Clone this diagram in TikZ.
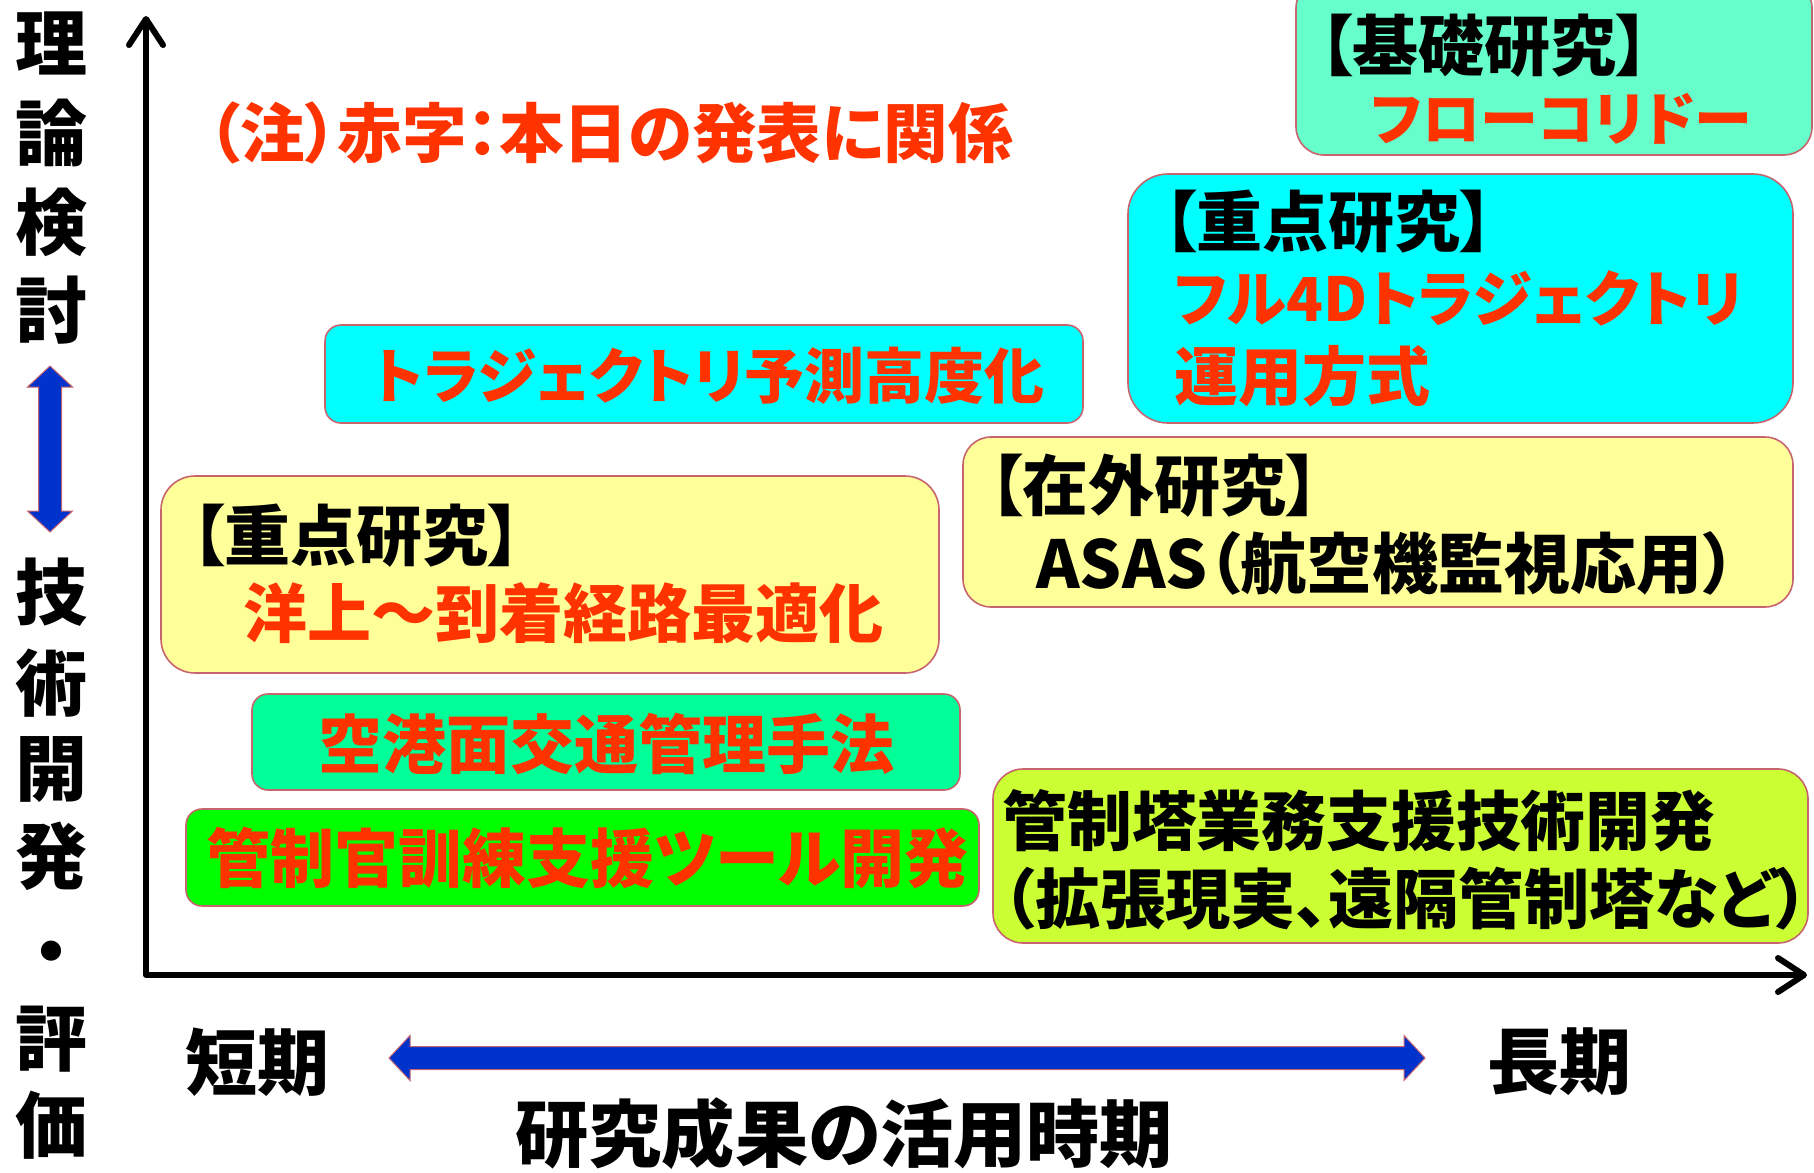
\documentclass[tikz,border=0pt]{standalone}
\usepackage{fontspec}
\setmainfont{Noto Sans CJK JP}[RawFeature=+palt]
\usetikzlibrary{arrows.meta,fit}
\definecolor{redtxt}{HTML}{FF3300}
\definecolor{arrblue}{HTML}{0033CC}
\definecolor{edge}{HTML}{C8646E}
\definecolor{aqua}{HTML}{66FFCC}
\definecolor{cyanbox}{HTML}{00FFFF}
\definecolor{yel}{HTML}{FFFF99}
\definecolor{spring}{HTML}{00FF99}
\definecolor{lime}{HTML}{00FF00}
\definecolor{ygreen}{HTML}{CCFF33}
\newcommand{\fsz}[1]{\bfseries\fontsize{#1}{1.2\dimexpr #1\relax}\selectfont}
\begin{document}
\begin{tikzpicture}[x=0.5pt,y=-0.5pt,
  box/.style={draw=edge, line width=0.8pt, inner sep=0pt},
  txt/.style={inner sep=0pt, anchor=west, font=\fsz{32pt}},
  vchar/.style={inner sep=0pt, font=\fsz{36pt}},
  big/.style={inner sep=0pt, anchor=west, font=\fsz{36pt}},
  axis/.style={line width=3pt, line join=round, {Straight Barb[length=13pt,width=17pt,round]}-{Straight Barb[length=13pt,width=17pt,round]}},
  blue arrow/.style={fill=arrblue, draw=edge, line width=0.5pt}
]
\useasboundingbox (0,0) rectangle (1814,1172);
\fill[white] (0,0) rectangle (1814,1172);

% axes
\coordinate (ytop) at (146,16);
\coordinate (O) at (146,975);
\coordinate (xend) at (1807,975);
\draw[axis] (ytop) -- (O) -- (xend);

% boxes
\node[box, fill=aqua, rounded corners=14pt, fit={(1296,-20) (1812,155)}] (b1) {};
\node[box, fill=cyanbox, rounded corners=20pt, fit={(1128,174) (1793,423)}] (b2) {};
\node[box, fill=cyanbox, rounded corners=8pt, fit={(325,325) (1083,423)}] (b3) {};
\node[box, fill=yel, rounded corners=14pt, fit={(963,437) (1793,607)}] (b4) {};
\node[box, fill=yel, rounded corners=17pt, fit={(161,476) (939,673)}] (b5) {};
\node[box, fill=spring, rounded corners=8pt, fit={(252,694) (960,790)}] (b6) {};
\node[box, fill=lime, rounded corners=8pt, fit={(186,809) (979,906)}] (b7) {};
\node[box, fill=ygreen, rounded corners=15pt, fit={(993,769) (1808,943)}] (b8) {};

% note
\node[txt, text=redtxt, font=\fsz{32.3pt}] (note) at (208,133) {（注）赤字：本日の発表に関係};

% box texts
\node[txt, font=\fsz{33pt}] (t1a) at (1319,46) {【基礎研究】};
\node[txt, text=redtxt, font=\fsz{29pt}] (t1b) at (1371,119) {フローコリドー};
\node[txt, font=\fsz{33pt}] (t2a) at (1163,222) {【重点研究】};
\node[txt, text=redtxt, font=\fsz{30.3pt}] (t2b) at (1174,298) {フル4Dトラジェクトリ};
\node[txt, text=redtxt] (t2c) at (1174,376) {運用方式};
\node[txt, text=redtxt, font=\fsz{30pt}] (t3) at (373,376) {トラジェクトリ予測高度化};
\node[txt, font=\fsz{33pt}] (t4a) at (989,486) {【在外研究】};
\node[txt, font=\fsz{33pt}] (t4b) at (1036,563) {ASAS（航空機監視応用）};
\node[txt, font=\fsz{33pt}] (t5a) at (191,536) {【重点研究】};
\node[txt, text=redtxt] (t5b) at (243,613) {洋上～到着経路最適化};
\node[txt, text=redtxt] (t6) at (318,744) {空港面交通管理手法};
\node[txt, text=redtxt] (t7) at (206,858) {管制官訓練支援ツール開発};
\node[txt, font=\fsz{32.4pt}] (t8a) at (1002,821) {管制塔業務支援技術開発};
\node[txt, font=\fsz{32.6pt}] (t8b) at (1002,899) {（拡張現実、遠隔管制塔など）};

% left vertical label
\node[vchar] (v1) at (51,43) {理};
\node[vchar] (v2) at (51,133) {論};
\node[vchar] (v3) at (51,222) {検};
\node[vchar] (v4) at (51,310) {討};
\node[vchar] (v5) at (51,592) {技};
\node[vchar] (v6) at (51,683) {術};
\node[vchar] (v7) at (51,769) {開};
\node[vchar] (v8) at (51,856) {発};
\node[vchar] (v9) at (51,960) {・};
\node[vchar] (v10) at (51,1039) {評};
\node[vchar] (v11) at (51,1125) {価};

% vertical blue double arrow
\filldraw[blue arrow] (50,366) -- (72.5,387) -- (61.5,387) -- (61.5,511) -- (72.5,511) -- (50,532)
  -- (27.5,511) -- (38.5,511) -- (38.5,387) -- (27.5,387) -- cycle;

% horizontal blue double arrow
\filldraw[blue arrow] (389,1058) -- (410,1035.5) -- (410,1046.5) -- (1404,1046.5) -- (1404,1035.5) -- (1425,1058)
  -- (1404,1080.5) -- (1404,1069.5) -- (410,1069.5) -- (410,1080.5) -- cycle;

% bottom labels
\node[big] (short) at (185,1062) {短期};
\node[big] (long) at (1487,1062) {長期};
\node[big, font=\fsz{36.6pt}] (xlabel) at (515,1134) {研究成果の活用時期};
\end{tikzpicture}
\end{document}
